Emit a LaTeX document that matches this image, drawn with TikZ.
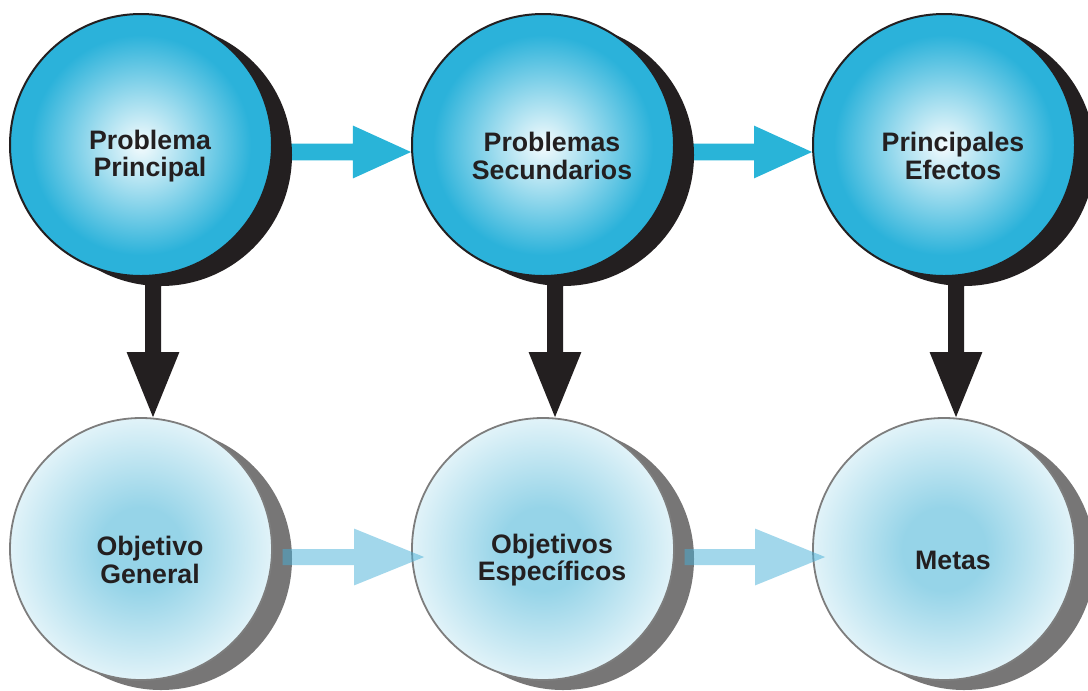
\documentclass[tikz,border=0pt]{standalone}
\usepackage{fontspec}
\setmainfont{Liberation Sans}
\usetikzlibrary{positioning,calc,backgrounds}

\definecolor{ballCyan}{RGB}{43,178,218}
\definecolor{arrowCyan}{RGB}{41,180,216}
\definecolor{paleBlue}{RGB}{150,212,232}
\definecolor{shadowBlack}{RGB}{35,31,32}
\definecolor{shadowGrey}{RGB}{119,118,118}
\definecolor{rimGrey}{RGB}{125,125,125}
\definecolor{textDark}{RGB}{35,31,32}
\definecolor{fadedArrow}{RGB}{70,175,215}

\pgfdeclareradialshading{topBallShading}{\pgfpoint{0bp}{0bp}}{color(0bp)=(white!95!ballCyan); color(9bp)=(white!55!ballCyan); color(21bp)=(ballCyan); color(25bp)=(ballCyan); color(50bp)=(ballCyan)}
\pgfdeclareradialshading{bottomBallShading}{\pgfpoint{0bp}{0bp}}{color(0bp)=(paleBlue); color(5bp)=(paleBlue); color(20bp)=(white); color(25bp)=(white); color(50bp)=(white)}

\tikzstyle{pixels} = [x = 0.25mm, y = -0.25mm]
\tikzstyle{ballShape} = [circle, minimum size = 65.5mm, inner sep = 0pt]
\tikzstyle{topBallStyle} = [ballShape, draw = shadowBlack, line width = 0.5mm, shade, shading = topBallShading]
\tikzstyle{topShadowStyle} = [ballShape, fill = shadowBlack]
\tikzstyle{bottomBallStyle} = [ballShape, draw = rimGrey, line width = 0.45mm, fill = white,
  path picture = {\begin{scope}[shift = {(path picture bounding box.center)}, yscale = .6]
    \shade[shading = bottomBallShading] (0, 0) circle (52mm);
  \end{scope}}]
\tikzstyle{bottomShadowStyle} = [ballShape, fill = shadowGrey]
\tikzstyle{ballText} = [font = \fontsize{19}{19.3}\selectfont\bfseries, align = center, text = textDark]
\tikzstyle{topArrowStyle} = [fill = arrowCyan]
\tikzstyle{downArrowStyle} = [fill = shadowBlack]
\tikzstyle{fadedArrowStyle} = [fill = fadedArrow, fill opacity = .5]

\newcommand{\topBall}[4]{
  \node [topShadowStyle] (#1Shadow) at (#2 + 20, #3 + 10) {};
  \node [topBallStyle] (#1) at (#2, #3) {};
  \node [ballText] (#1Text) at ($(#1) + (9, 11)$) {#4};
}
\newcommand{\bottomBall}[4]{
  \node [bottomShadowStyle] (#1Shadow) at (#2 + 20, #3 + 10) {};
  \node [bottomBallStyle] (#1) at (#2, #3) {};
  \node [ballText] (#1Text) at ($(#1) + (9, 11)$) {#4};
}
% style, from, to, shaft half, head half, head length
\newcommand{\fatArrowRight}[6]{\fill [#1] let \p1 = (#2), \p2 = (#3) in
  (\x1, \y1 + #4) -- (\x2 - #6, \y1 + #4) -- (\x2 - #6, \y1 + #5) -- (\x2, \y1)
  -- (\x2 - #6, \y1 - #5) -- (\x2 - #6, \y1 - #4) -- (\x1, \y1 - #4) -- cycle;}
\newcommand{\fatArrowDown}[6]{\fill [#1] let \p1 = (#2), \p2 = (#3) in
  (\x1 - #4, \y1) -- (\x1 - #4, \y2 + #6) -- (\x1 - #5, \y2 + #6) -- (\x1, \y2)
  -- (\x1 + #5, \y2 + #6) -- (\x1 + #4, \y2 + #6) -- (\x1 + #4, \y1) -- cycle;}

\begin{document}
\begin{tikzpicture}[pixels]
  \useasboundingbox (0, 0) rectangle (1088, 690);

  \topBall{probPrincipal}{141}{145}{Problema\\Principal}
  \topBall{probSecundarios}{543}{145}{Problemas\\Secundarios}
  \topBall{efectos}{944}{145}{Principales\\Efectos}

  \bottomBall{objGeneral}{141}{549}{Objetivo\\General}
  \bottomBall{objEspecificos}{543}{549}{Objetivos\\Específicos}
  \bottomBall{metas}{944}{549}{Metas}

  \begin{scope}[on background layer]
    \fatArrowRight{topArrowStyle}{$(probPrincipal.east)!.5!(probPrincipalShadow.east) + (0, 2)$}{probSecundarios.west}{2.1mm}{6.6mm}{14.5mm}
    \fatArrowRight{topArrowStyle}{$(probSecundarios.east)!.5!(probSecundariosShadow.east) + (0, 2)$}{efectos.west}{2.1mm}{6.6mm}{14.5mm}
    \fatArrowDown{downArrowStyle}{$(probPrincipal.south)!.6!(probPrincipalShadow.south)$}{objGeneral.north}{2mm}{6.6mm}{16.25mm}
    \fatArrowDown{downArrowStyle}{$(probSecundarios.south)!.6!(probSecundariosShadow.south)$}{objEspecificos.north}{2mm}{6.6mm}{16.25mm}
    \fatArrowDown{downArrowStyle}{$(efectos.south)!.6!(efectosShadow.south)$}{metas.north}{2mm}{6.6mm}{16.25mm}
  \end{scope}

  \fatArrowRight{fadedArrowStyle}{$(objGeneral.east)!.5!(objGeneralShadow.east) + (0, 3)$}{$(objEspecificos.west) + (13, 0)$}{2mm}{7.1mm}{17.5mm}
  \fatArrowRight{fadedArrowStyle}{$(objEspecificos.east)!.5!(objEspecificosShadow.east) + (0, 3)$}{$(metas.west) + (13, 0)$}{2mm}{7.1mm}{17.5mm}
\end{tikzpicture}
\end{document}
